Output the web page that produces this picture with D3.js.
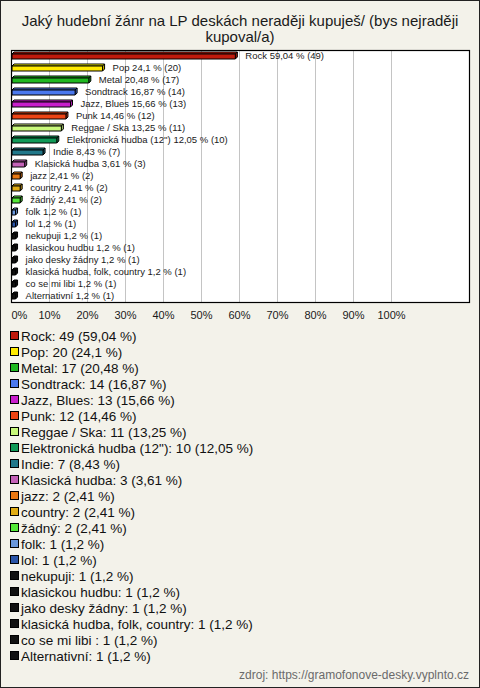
<!DOCTYPE html>
<html>
<head>
<meta charset="utf-8">
<script src="https://cdn.jsdelivr.net/npm/d3@7"></script>
<style>
html,body{margin:0;padding:0;background:#f3f2ea;}
svg{display:block;font-family:"Liberation Sans",Arial,sans-serif;}
</style>
</head>
<body>
<svg id="chart" width="480" height="688"></svg>
<script>
const titleLines = ["Jaký hudební žánr na LP deskách neraději kupuješ/ (bys nejraději", "kupoval/a)"];
const categories = ["Rock","Pop","Metal","Sondtrack","Jazz, Blues","Punk","Reggae / Ska","Elektronická hudba (12\")","Indie","Klasická hudba","jazz","country","žádný","folk","lol","nekupuji","klasickou hudbu","jako desky žádny","klasická hudba, folk, country","co se mi libi ","Alternativní"];
const counts = [49,20,17,14,13,12,11,10,7,3,2,2,2,1,1,1,1,1,1,1,1];
const percents = [59.04,24.1,20.48,16.87,15.66,14.46,13.25,12.05,8.43,3.61,2.41,2.41,2.41,1.2,1.2,1.2,1.2,1.2,1.2,1.2,1.2];
const percentLabels = ["59,04","24,1","20,48","16,87","15,66","14,46","13,25","12,05","8,43","3,61","2,41","2,41","2,41","1,2","1,2","1,2","1,2","1,2","1,2","1,2","1,2"];
const barLabelNames = ["Rock","Pop","Metal","Sondtrack","Jazz, Blues","Punk","Reggae / Ska","Elektronická hudba (12'')","Indie","Klasická hudba","jazz","country","žádný","folk","lol","nekupuji","klasickou hudbu","jako desky žádny","klasická hudba, folk, country","co se mi libi ","Alternativní"];
const colors = ["#c01a0c","#ffea00","#20b820","#4a78ee","#c81ecc","#ee4414","#c8f87a","#119a58","#21788a","#c462b8","#e87812","#e0ac14","#54e838","#6a98dc","#2a54a8","#111111","#111111","#111111","#111111","#111111","#111111"];
const tickValues = [0,10,20,30,40,50,60,70,80,90,100];
const sourceText = "zdroj: https://gramofonove-desky.vyplnto.cz";

const svg = d3.select("#chart");
const W = 480, H = 688;

svg.append("rect").attr("x",0.5).attr("y",0.5).attr("width",W-1).attr("height",H-1)
  .attr("fill","#f3f2ea").attr("stroke","#222");

svg.append("g").selectAll("text").data(titleLines).join("text")
  .attr("x",240).attr("y",(d,i)=>26+i*16).attr("text-anchor","middle")
  .attr("font-size",15).attr("fill","#1a1a1a").text(d=>d);

const plot = {left:11, right:469, top:50, bottom:302};
const x = d3.scaleLinear().domain([0,100]).range([11,391]);
const y = d3.scaleBand().domain(categories).range([plot.top, plot.bottom]);

svg.append("rect").attr("x",plot.left+0.5).attr("y",plot.top+0.5)
  .attr("width",plot.right-plot.left).attr("height",plot.bottom-plot.top)
  .attr("fill","#ffffff");

// grid
svg.append("g").selectAll("line").data(tickValues.filter(t=>t>0)).join("line")
  .attr("x1",d=>Math.round(x(d))+0.5).attr("x2",d=>Math.round(x(d))+0.5)
  .attr("y1",plot.top).attr("y2",plot.bottom)
  .attr("stroke","#c4c4c4").attr("stroke-width",1);

// bars (3D style)
const dep = 2, bh = 5;
const bars = svg.append("g");
categories.forEach((c,i)=>{
  const cy = y(c) + y.bandwidth()/2;
  const x0 = x(0)+1, x1 = x(percents[i]);
  const top = cy - bh/2 + 0.5;
  const g = bars.append("g").attr("stroke","#000").attr("stroke-width",1).attr("stroke-linejoin","round");
  const col = colors[i];
  g.append("path").attr("fill",d3.color(col).brighter(0.3))
    .attr("d",`M${x0},${top}L${x0+dep},${top-dep}L${x1+dep},${top-dep}L${x1},${top}Z`);
  g.append("path").attr("fill",d3.color(col).darker(0.4))
    .attr("d",`M${x1},${top}L${x1+dep},${top-dep}L${x1+dep},${top+bh-dep}L${x1},${top+bh}Z`);
  g.append("rect").attr("x",x0).attr("y",top).attr("width",Math.max(0,x1-x0)).attr("height",bh).attr("fill",col);
  bars.append("text").attr("x",x1+10).attr("y",cy).attr("dy","0.35em")
    .attr("font-size",9.5).attr("fill","#1a1a1a")
    .text(`${barLabelNames[i]} ${percentLabels[i]} % (${counts[i]})`);
});

// plot border
svg.append("rect").attr("x",plot.left+0.5).attr("y",plot.top+0.5)
  .attr("width",plot.right-plot.left).attr("height",plot.bottom-plot.top)
  .attr("fill","none").attr("stroke","#000").attr("stroke-width",1.2);

// axis
const axis = d3.axisBottom(x).tickValues(tickValues).tickFormat(d=>d+"%").tickSize(0).tickPadding(0);
const ax = svg.append("g").attr("transform",`translate(0,${311})`).call(axis);
ax.select(".domain").remove();
ax.selectAll("text").attr("font-size",11).attr("fill","#1a1a1a").attr("font-family","Liberation Sans, Arial, sans-serif")
  .attr("dy","0.71em")
  .attr("text-anchor",d=>d===0?"start":"middle");

// legend
const leg = svg.append("g");
categories.forEach((c,i)=>{
  const cy = 336 + i*16;
  leg.append("rect").attr("x",10.5).attr("y",cy-4.5).attr("width",8).attr("height",8)
    .attr("fill",colors[i]).attr("stroke","#000").attr("stroke-width",1);
  leg.append("text").attr("x",21).attr("y",cy).attr("dy","0.36em")
    .attr("font-size",13.5).attr("fill","#111")
    .text(`${c}: ${counts[i]} (${percentLabels[i]} %)`);
});

svg.append("text").attr("x",469).attr("y",679).attr("text-anchor","end")
  .attr("font-size",12).attr("fill","#6a6a6a").text(sourceText);
</script>
</body>
</html>
